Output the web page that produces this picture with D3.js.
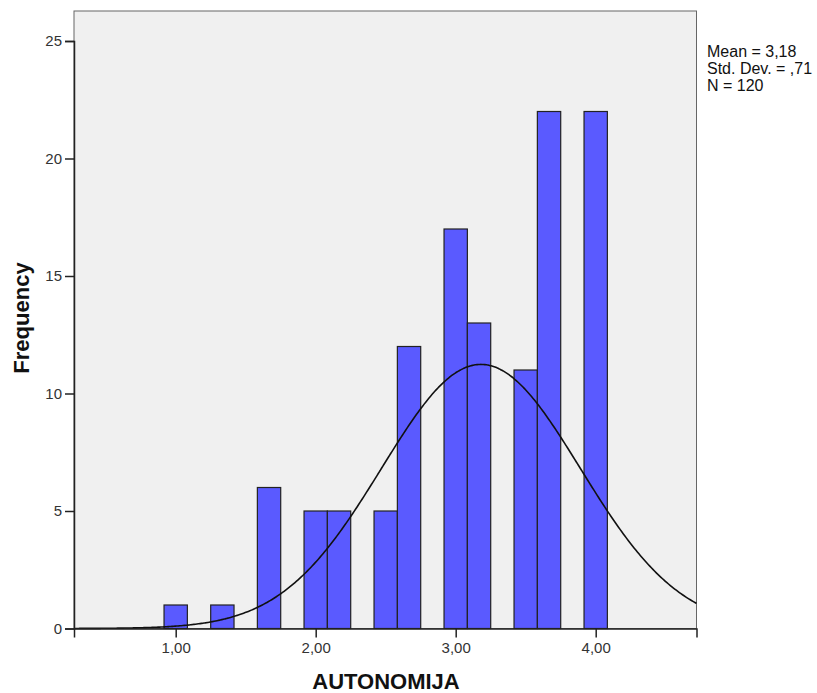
<!DOCTYPE html>
<html><head><meta charset="utf-8">
<script src="https://cdn.jsdelivr.net/npm/d3@7"></script>
<style>body{margin:0;background:#fff;} text{font-family:"Liberation Sans",Arial,sans-serif;}</style>
</head><body><svg id="c" width="817" height="693"></svg>
<script>
const binCenters = [1.0, 1.3333, 1.6667, 2.0, 2.1667, 2.5, 2.6667, 3.0, 3.1667, 3.5, 3.6667, 4.0];
const frequencies = [1, 1, 6, 5, 5, 5, 12, 17, 13, 11, 22, 22];
const binWidth = 1/6;
const xTicks = [1, 2, 3, 4];
const yTicks = [0, 5, 10, 15, 20, 25];
const stats = {mean: 3.18, sd: 0.71, n: 120};
const statLines = ["Mean = 3,18", "Std. Dev. = ,71", "N = 120"];

const svg = d3.select("#c");
const L = 74, R = 696.5, T = 11, B = 628.5;
const x = d3.scaleLinear().domain([0.2736, 4.72]).range([L, R]);
const y = d3.scaleLinear().domain([0, 25]).range([B, 41]);
const fmt = d => d.toFixed(2).replace(".", ",");

svg.append("rect").attr("x", L).attr("y", T).attr("width", R - L).attr("height", B - T)
  .attr("fill", "#f0f0f0").attr("stroke", "#666").attr("stroke-width", 1);

// bars
svg.append("g").selectAll("rect").data(binCenters).join("rect")
  .attr("x", (d) => x(d - binWidth/2))
  .attr("width", (d) => x(d + binWidth/2) - x(d - binWidth/2))
  .attr("y", (d, i) => y(frequencies[i]))
  .attr("height", (d, i) => y(0) - y(frequencies[i]))
  .attr("fill", "#5a5aff").attr("stroke", "#222").attr("stroke-width", 1.2);

// normal curve
const pdf = v => stats.n * binWidth / (stats.sd * Math.sqrt(2*Math.PI)) * Math.exp(-0.5*Math.pow((v - stats.mean)/stats.sd, 2));
const xs = d3.range(0, 401).map(i => 0.2736 + (4.72 - 0.2736) * i / 400);
svg.append("path").datum(xs)
  .attr("d", d3.line().x(v => x(v)).y(v => y(pdf(v))).curve(d3.curveBasis))
  .attr("fill", "none").attr("stroke", "#111").attr("stroke-width", 1.6);

// axes
const yAxis = svg.append("g").attr("transform", `translate(${L},0)`)
  .call(d3.axisLeft(y).tickValues(yTicks).tickSize(9).tickPadding(3).tickFormat(d3.format("d")));
const xAxis = svg.append("g").attr("transform", `translate(0,${B})`)
  .call(d3.axisBottom(x).tickValues(xTicks).tickSize(9).tickPadding(5).tickFormat(fmt));
[yAxis, xAxis].forEach(a => {
  a.select(".domain").attr("stroke", "#222").attr("stroke-width", 1.5);
  a.selectAll(".tick line").attr("stroke", "#222").attr("stroke-width", 1.5);
  a.selectAll(".tick text").attr("font-size", 15).attr("fill", "#333")
    .style("font-family", '"Liberation Sans",Arial,sans-serif');
});

svg.append("text").attr("x", 386).attr("y", 689).attr("text-anchor", "middle")
  .attr("font-size", 22).attr("font-weight", "bold").attr("fill", "#111").text("AUTONOMIJA");
svg.append("text").attr("transform", "translate(29,318) rotate(-90)").attr("text-anchor", "middle")
  .attr("font-size", 22).attr("font-weight", "bold").attr("fill", "#111").text("Frequency");

svg.append("g").selectAll("text").data(statLines).join("text")
  .attr("x", 707).attr("y", (d, i) => 57 + i * 16.8)
  .attr("font-size", 16).attr("fill", "#111").text(d => d);
</script></body></html>
